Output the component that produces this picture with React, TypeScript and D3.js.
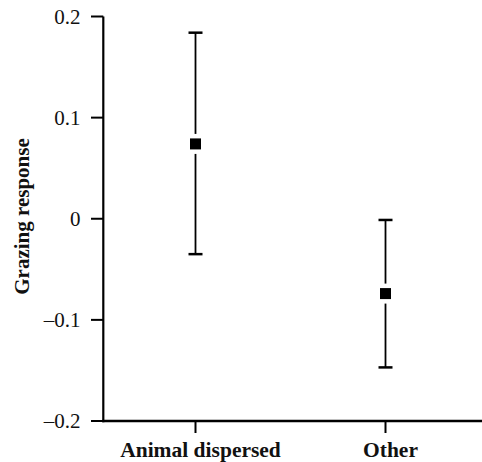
import React from "react";
import * as d3 from "d3";

const categories = ["Animal dispersed", "Other"];
const means = [0.074, -0.074];
const upper = [0.184, -0.0012];
const lower = [-0.035, -0.147];
const yTicks = [-0.2, -0.1, 0, 0.1, 0.2];
const yTickLabels = ["\u20130.2", "\u20130.1", "0", "0.1", "0.2"];
const yLabel = "Grazing response";

const W = 482;
const H = 462;
const FONT = "'Liberation Serif', 'Times New Roman', Times, serif";

export default function App() {
  const y = d3.scaleLinear().domain([-0.2, 0.2]).range([421, 16.5]);
  const x = d3.scaleBand<string>().domain(categories).range([100.5, 480.5]);
  const cx = (c: string) => (x(c) as number) + x.bandwidth() / 2;
  const axisX = 103.3;
  const axisY = y(-0.2);
  const capHalf = 7;
  const m = 11;
  const gap = 20;

  return (
    <svg
      width={W}
      height={H}
      style={{ position: "absolute", left: 0, top: 0, background: "#fff" }}
      fontFamily={FONT}
    >
      <rect x={0} y={0} width={W} height={H} fill="#fff" />
      <line x1={axisX} x2={axisX} y1={y(0.2)} y2={axisY + 1.2} stroke="#000" strokeWidth={2.2} />
      {yTicks.map((t, i) => (
        <g key={t}>
          <line x1={91} x2={axisX} y1={y(t)} y2={y(t)} stroke="#000" strokeWidth={2} />
          <text x={80.5} y={y(t)} dy="0.34em" textAnchor="end" fontSize={21} fill="#111">
            {yTickLabels[i]}
          </text>
        </g>
      ))}
      <text
        transform={`translate(28.5, 216.5) rotate(-90)`}
        textAnchor="middle"
        fontSize={21}
        fontWeight="bold"
        fill="#111"
      >
        {yLabel}
      </text>
      <line x1={axisX - 1.1} x2={W} y1={axisY} y2={axisY} stroke="#000" strokeWidth={2.4} />
      {categories.map((c) => (
        <g key={c}>
          <line x1={cx(c)} x2={cx(c)} y1={axisY} y2={433} stroke="#000" strokeWidth={2} />
          <text x={cx(c) + 5} y={457} textAnchor="middle" fontSize={21.5} fontWeight="bold" fill="#111">
            {c}
          </text>
        </g>
      ))}
      {categories.map((c, i) => {
        const px = cx(c);
        return (
          <g key={c + "-err"}>
            <line x1={px} x2={px} y1={y(upper[i])} y2={y(lower[i])} stroke="#000" strokeWidth={1.8} />
            <line x1={px - capHalf} x2={px + capHalf} y1={y(upper[i])} y2={y(upper[i])} stroke="#000" strokeWidth={2.5} />
            <line x1={px - capHalf} x2={px + capHalf} y1={y(lower[i])} y2={y(lower[i])} stroke="#000" strokeWidth={2.5} />
            <rect x={px - gap / 2} y={y(means[i]) - gap / 2} width={gap} height={gap} fill="#fff" />
            <rect x={px - m / 2} y={y(means[i]) - m / 2} width={m} height={m} fill="#000" />
          </g>
        );
      })}
    </svg>
  );
}
